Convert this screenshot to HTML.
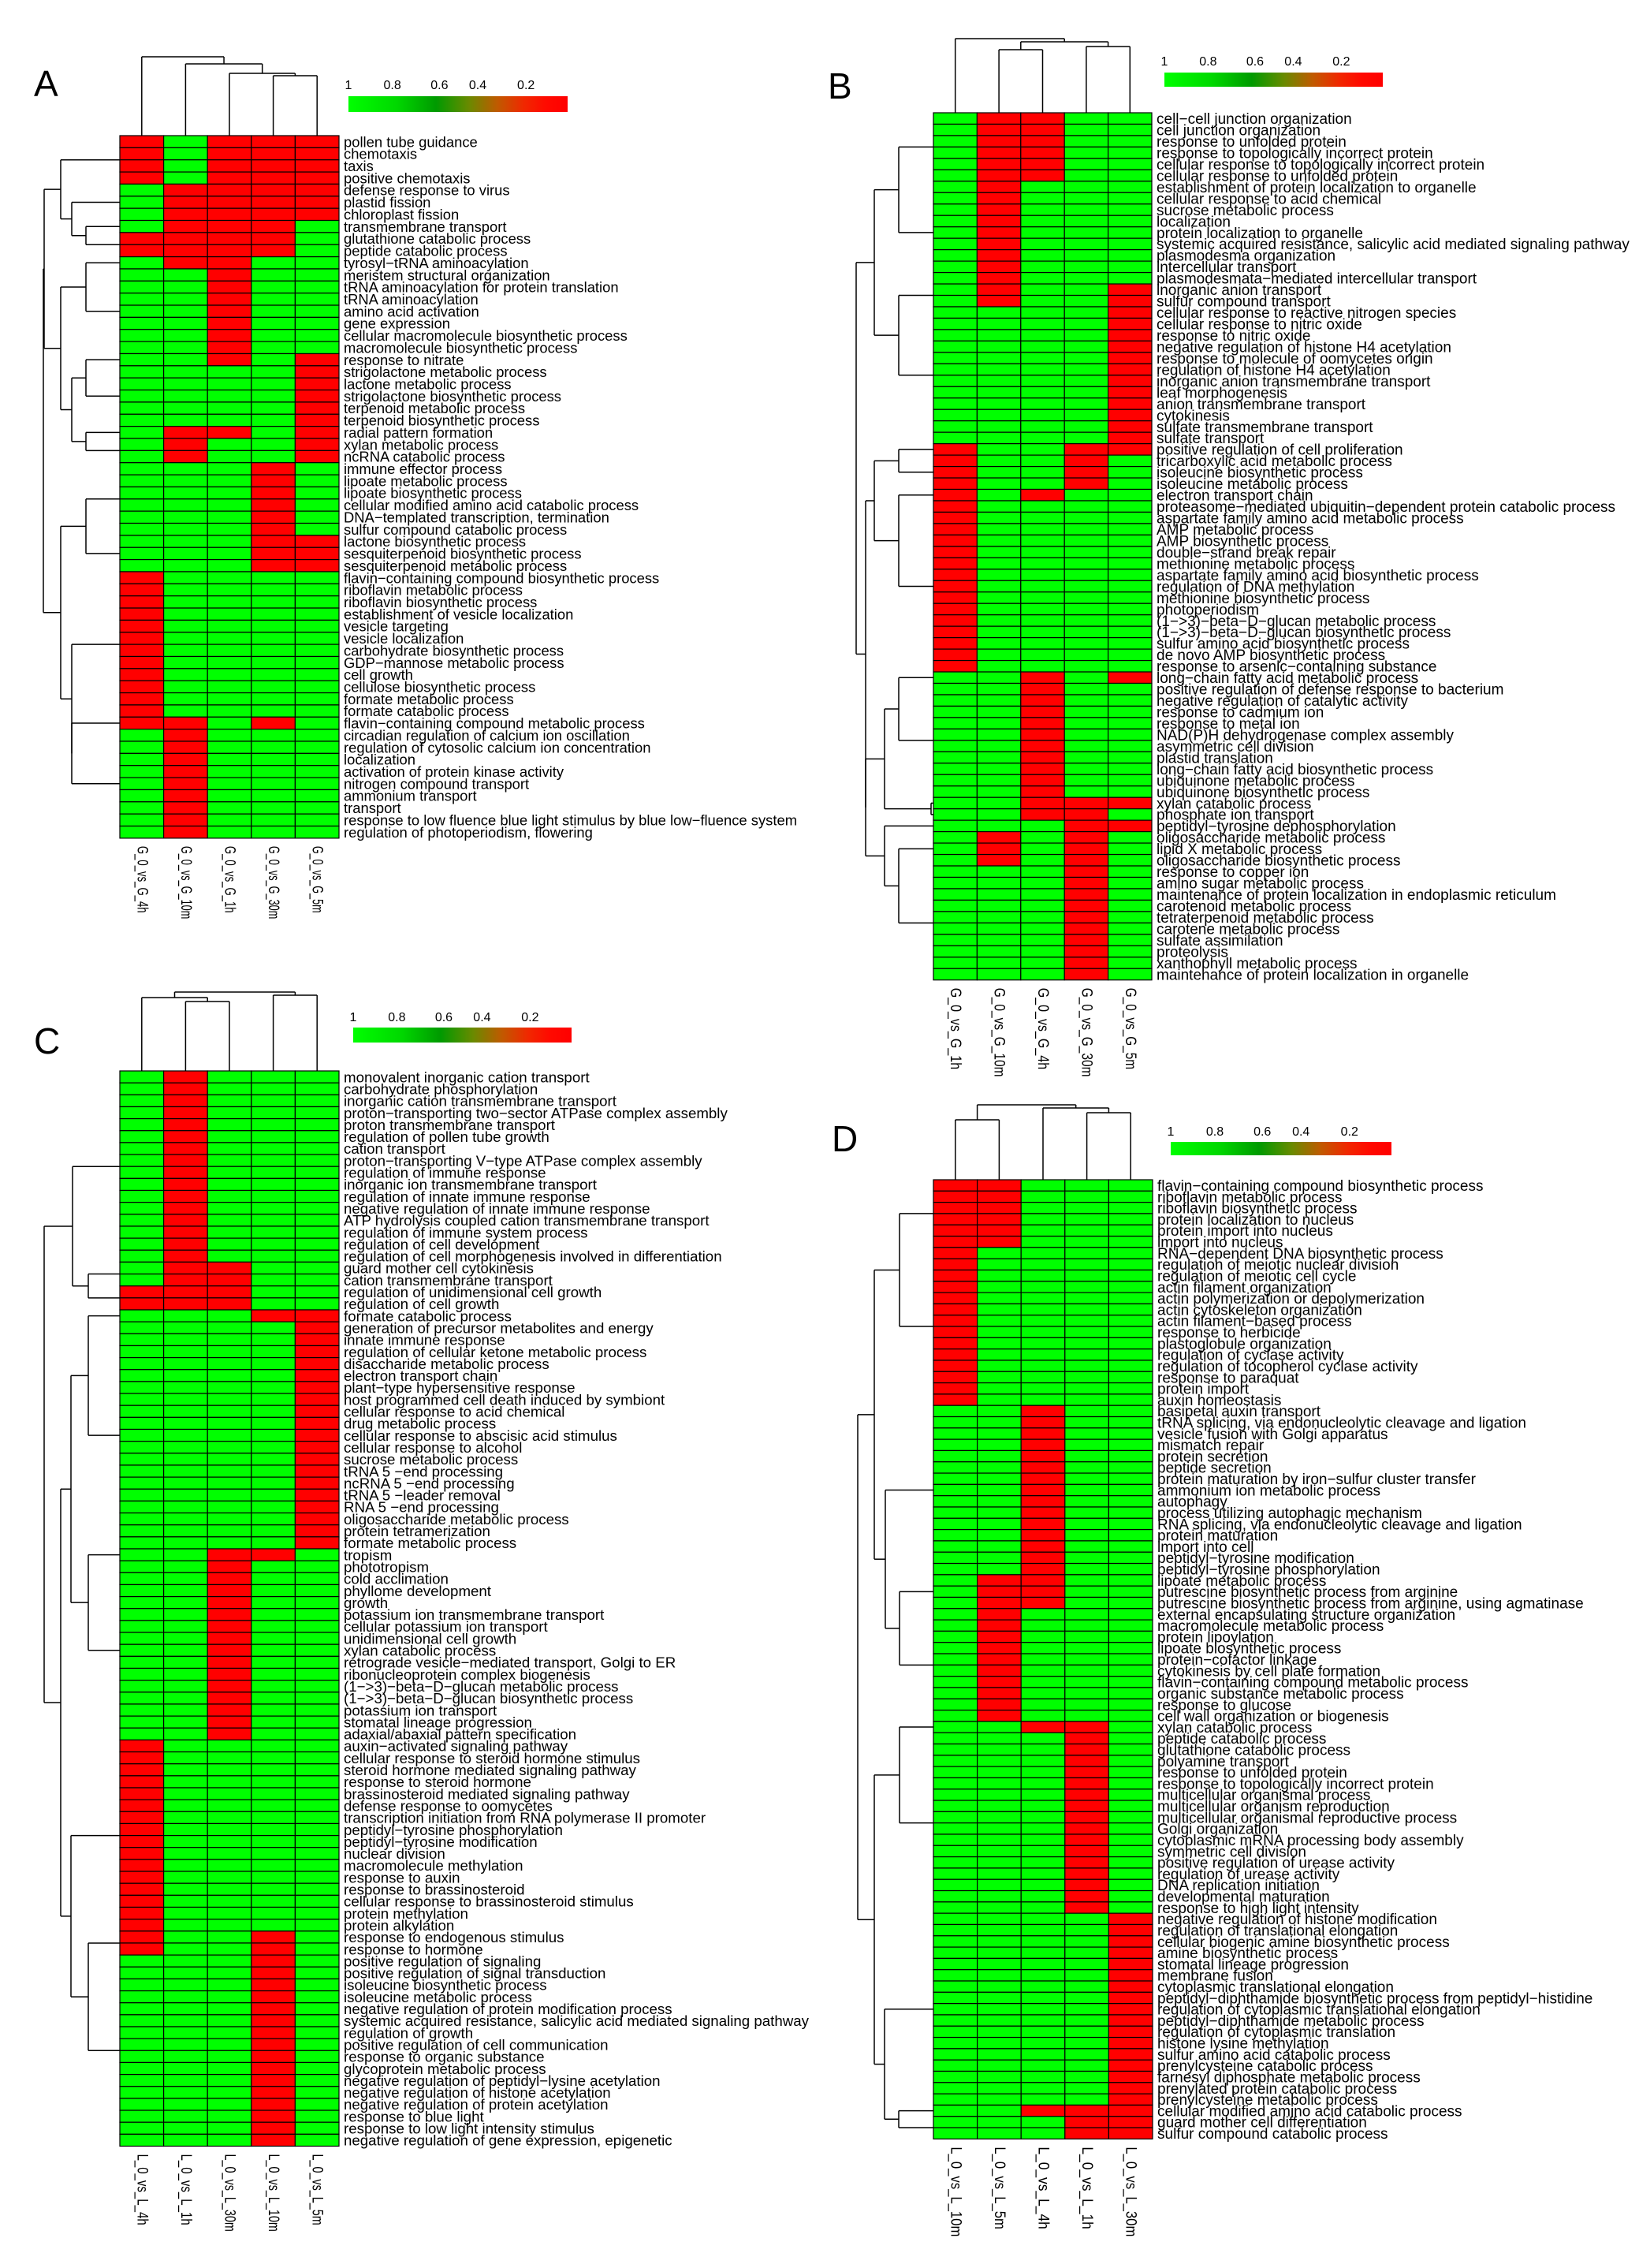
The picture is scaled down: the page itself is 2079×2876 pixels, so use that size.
<!DOCTYPE html>
<html>
<head>
<meta charset="utf-8">
<style>
html,body{margin:0;padding:0;background:#fff;}
svg{display:block;}
text{font-family:"Liberation Sans",Arial,sans-serif;fill:#000;}
</style>
</head>
<body>
<svg id="fig" xmlns="http://www.w3.org/2000/svg" width="2079" height="2876" viewBox="0 0 2079 2876">
<defs>
<linearGradient id="cbar" x1="0" x2="1" y1="0" y2="0">
<stop offset="0" stop-color="#00ff00"/>
<stop offset="0.22" stop-color="#00d800"/>
<stop offset="0.40" stop-color="#009a00"/>
<stop offset="0.55" stop-color="#6a8a00"/>
<stop offset="0.68" stop-color="#c05a00"/>
<stop offset="0.80" stop-color="#f02800"/>
<stop offset="0.90" stop-color="#ff0a00"/>
<stop offset="1" stop-color="#ff0000"/>
</linearGradient>
</defs>
<rect x="0" y="0" width="2079" height="2876" fill="#fff"/>
</svg>
<script>
// ---------- DATA ----------
const colsA = ["G_0_vs_G_4h","G_0_vs_G_10m","G_0_vs_G_1h","G_0_vs_G_30m","G_0_vs_G_5m"];
const rowsA = ["pollen tube guidance","chemotaxis","taxis","positive chemotaxis","defense response to virus","plastid fission","chloroplast fission","transmembrane transport","glutathione catabolic process","peptide catabolic process","tyrosyl\u2212tRNA aminoacylation","meristem structural organization","tRNA aminoacylation for protein translation","tRNA aminoacylation","amino acid activation","gene expression","cellular macromolecule biosynthetic process","macromolecule biosynthetic process","response to nitrate","strigolactone metabolic process","lactone metabolic process","strigolactone biosynthetic process","terpenoid metabolic process","terpenoid biosynthetic process","radial pattern formation","xylan metabolic process","ncRNA catabolic process","immune effector process","lipoate metabolic process","lipoate biosynthetic process","cellular modified amino acid catabolic process","DNA\u2212templated transcription, termination","sulfur compound catabolic process","lactone biosynthetic process","sesquiterpenoid biosynthetic process","sesquiterpenoid metabolic process","flavin\u2212containing compound biosynthetic process","riboflavin metabolic process","riboflavin biosynthetic process","establishment of vesicle localization","vesicle targeting","vesicle localization","carbohydrate biosynthetic process","GDP\u2212mannose metabolic process","cell growth","cellulose biosynthetic process","formate metabolic process","formate catabolic process","flavin\u2212containing compound metabolic process","circadian regulation of calcium ion oscillation","regulation of cytosolic calcium ion concentration","localization","activation of protein kinase activity","nitrogen compound transport","ammonium transport","transport","response to low fluence blue light stimulus by blue low\u2212fluence system","regulation of photoperiodism, flowering"];
const valsA = ["01000","01000","01000","01000","10000","10000","10000","10001","00001","00001","10011","11011","11011","11011","11011","11011","11011","11011","11010","11110","11110","11110","11110","11110","10010","10110","10110","11101","11101","11101","11101","11101","11101","11100","11100","11100","01111","01111","01111","01111","01111","01111","01111","01111","01111","01111","01111","01111","00101","10111","10111","10111","10111","10111","10111","10111","10111","10111"];

const colsB = ["G_0_vs_G_1h","G_0_vs_G_10m","G_0_vs_G_4h","G_0_vs_G_30m","G_0_vs_G_5m"];
const rowsB = ["cell\u2212cell junction organization","cell junction organization","response to unfolded protein","response to topologically incorrect protein","cellular response to topologically incorrect protein","cellular response to unfolded protein","establishment of protein localization to organelle","cellular response to acid chemical","sucrose metabolic process","localization","protein localization to organelle","systemic acquired resistance, salicylic acid mediated signaling pathway","plasmodesma organization","intercellular transport","plasmodesmata\u2212mediated intercellular transport","inorganic anion transport","sulfur compound transport","cellular response to reactive nitrogen species","cellular response to nitric oxide","response to nitric oxide","negative regulation of histone H4 acetylation","response to molecule of oomycetes origin","regulation of histone H4 acetylation","inorganic anion transmembrane transport","leaf morphogenesis","anion transmembrane transport","cytokinesis","sulfate transmembrane transport","sulfate transport","positive regulation of cell proliferation","tricarboxylic acid metabolic process","isoleucine biosynthetic process","isoleucine metabolic process","electron transport chain","proteasome\u2212mediated ubiquitin\u2212dependent protein catabolic process","aspartate family amino acid metabolic process","AMP metabolic process","AMP biosynthetic process","double\u2212strand break repair","methionine metabolic process","aspartate family amino acid biosynthetic process","regulation of DNA methylation","methionine biosynthetic process","photoperiodism","(1\u2212>3)\u2212beta\u2212D\u2212glucan metabolic process","(1\u2212>3)\u2212beta\u2212D\u2212glucan biosynthetic process","sulfur amino acid biosynthetic process","de novo AMP biosynthetic process","response to arsenic\u2212containing substance","long\u2212chain fatty acid metabolic process","positive regulation of defense response to bacterium","negative regulation of catalytic activity","response to cadmium ion","response to metal ion","NAD(P)H dehydrogenase complex assembly","asymmetric cell division","plastid translation","long\u2212chain fatty acid biosynthetic process","ubiquinone metabolic process","ubiquinone biosynthetic process","xylan catabolic process","phosphate ion transport","peptidyl\u2212tyrosine dephosphorylation","oligosaccharide metabolic process","lipid X metabolic process","oligosaccharide biosynthetic process","response to copper ion","amino sugar metabolic process","maintenance of protein localization in endoplasmic reticulum","carotenoid metabolic process","tetraterpenoid metabolic process","carotene metabolic process","sulfate assimilation","proteolysis","xanthophyll metabolic process","maintenance of protein localization in organelle"];
const valsB = ["10011","10011","10011","10011","10011","10011","10111","10111","10111","10111","10111","10111","10111","10111","10111","10110","10110","11110","11110","11110","11110","11110","11110","11110","11110","11110","11110","11110","11110","01100","01101","01101","01101","01011","01111","01111","01111","01111","01111","01111","01111","01111","01111","01111","01111","01111","01111","01111","01111","11010","11011","11011","11011","11011","11011","11011","11011","11011","11011","11011","11000","11001","11100","10101","10101","10101","11101","11101","11101","11101","11101","11101","11101","11101","11101","11101"];

const colsC = ["L_0_vs_L_4h","L_0_vs_L_1h","L_0_vs_L_30m","L_0_vs_L_10m","L_0_vs_L_5m"];
const rowsC = ["monovalent inorganic cation transport","carbohydrate phosphorylation","inorganic cation transmembrane transport","proton\u2212transporting two\u2212sector ATPase complex assembly","proton transmembrane transport","regulation of pollen tube growth","cation transport","proton\u2212transporting V\u2212type ATPase complex assembly","regulation of immune response","inorganic ion transmembrane transport","regulation of innate immune response","negative regulation of innate immune response","ATP hydrolysis coupled cation transmembrane transport","regulation of immune system process","regulation of cell development","regulation of cell morphogenesis involved in differentiation","guard mother cell cytokinesis","cation transmembrane transport","regulation of unidimensional cell growth","regulation of cell growth","formate catabolic process","generation of precursor metabolites and energy","innate immune response","regulation of cellular ketone metabolic process","disaccharide metabolic process","electron transport chain","plant\u2212type hypersensitive response","host programmed cell death induced by symbiont","cellular response to acid chemical","drug metabolic process","cellular response to abscisic acid stimulus","cellular response to alcohol","sucrose metabolic process","tRNA 5 \u2212end processing","ncRNA 5 \u2212end processing","tRNA 5 \u2212leader removal","RNA 5 \u2212end processing","oligosaccharide metabolic process","protein tetramerization","formate metabolic process","tropism","phototropism","cold acclimation","phyllome development","growth","potassium ion transmembrane transport","cellular potassium ion transport","unidimensional cell growth","xylan catabolic process","retrograde vesicle\u2212mediated transport, Golgi to ER","ribonucleoprotein complex biogenesis","(1\u2212>3)\u2212beta\u2212D\u2212glucan metabolic process","(1\u2212>3)\u2212beta\u2212D\u2212glucan biosynthetic process","potassium ion transport","stomatal lineage progression","adaxial/abaxial pattern specification","auxin\u2212activated signaling pathway","cellular response to steroid hormone stimulus","steroid hormone mediated signaling pathway","response to steroid hormone","brassinosteroid mediated signaling pathway","defense response to oomycetes","transcription initiation from RNA polymerase II promoter","peptidyl\u2212tyrosine phosphorylation","peptidyl\u2212tyrosine modification","nuclear division","macromolecule methylation","response to auxin","response to brassinosteroid","cellular response to brassinosteroid stimulus","protein methylation","protein alkylation","response to endogenous stimulus","response to hormone","positive regulation of signaling","positive regulation of signal transduction","isoleucine biosynthetic process","isoleucine metabolic process","negative regulation of protein modification process","systemic acquired resistance, salicylic acid mediated signaling pathway","regulation of growth","positive regulation of cell communication","response to organic substance","glycoprotein metabolic process","negative regulation of peptidyl\u2212lysine acetylation","negative regulation of histone acetylation","negative regulation of protein acetylation","response to blue light","response to low light intensity stimulus","negative regulation of gene expression, epigenetic"];
const valsC = ["10111","10111","10111","10111","10111","10111","10111","10111","10111","10111","10111","10111","10111","10111","10111","10111","10011","10011","00011","00011","11100","11110","11110","11110","11110","11110","11110","11110","11110","11110","11110","11110","11110","11110","11110","11110","11110","11110","11110","11110","11001","11011","11011","11011","11011","11011","11011","11011","11011","11011","11011","11011","11011","11011","11011","11011","01111","01111","01111","01111","01111","01111","01111","01111","01111","01111","01111","01111","01111","01111","01111","01111","01101","01101","11101","11101","11101","11101","11101","11101","11101","11101","11101","11101","11101","11101","11101","11101","11101","11101"];

const colsD = ["L_0_vs_L_10m","L_0_vs_L_5m","L_0_vs_L_4h","L_0_vs_L_1h","L_0_vs_L_30m"];
const rowsD = ["flavin\u2212containing compound biosynthetic process","riboflavin metabolic process","riboflavin biosynthetic process","protein localization to nucleus","protein import into nucleus","import into nucleus","RNA\u2212dependent DNA biosynthetic process","regulation of meiotic nuclear division","regulation of meiotic cell cycle","actin filament organization","actin polymerization or depolymerization","actin cytoskeleton organization","actin filament\u2212based process","response to herbicide","plastoglobule organization","regulation of cyclase activity","regulation of tocopherol cyclase activity","response to paraquat","protein import","auxin homeostasis","basipetal auxin transport","tRNA splicing, via endonucleolytic cleavage and ligation","vesicle fusion with Golgi apparatus","mismatch repair","protein secretion","peptide secretion","protein maturation by iron\u2212sulfur cluster transfer","ammonium ion metabolic process","autophagy","process utilizing autophagic mechanism","RNA splicing, via endonucleolytic cleavage and ligation","protein maturation","import into cell","peptidyl\u2212tyrosine modification","peptidyl\u2212tyrosine phosphorylation","lipoate metabolic process","putrescine biosynthetic process from arginine","putrescine biosynthetic process from arginine, using agmatinase","external encapsulating structure organization","macromolecule metabolic process","protein lipoylation","lipoate biosynthetic process","protein\u2212cofactor linkage","cytokinesis by cell plate formation","flavin\u2212containing compound metabolic process","organic substance metabolic process","response to glucose","cell wall organization or biogenesis","xylan catabolic process","peptide catabolic process","glutathione catabolic process","polyamine transport","response to unfolded protein","response to topologically incorrect protein","multicellular organismal process","multicellular organism reproduction","multicellular organismal reproductive process","Golgi organization","cytoplasmic mRNA processing body assembly","symmetric cell division","positive regulation of urease activity","regulation of urease activity","DNA replication initiation","developmental maturation","response to high light intensity","negative regulation of histone modification","regulation of translational elongation","cellular biogenic amine biosynthetic process","amine biosynthetic process","stomatal lineage progression","membrane fusion","cytoplasmic translational elongation","peptidyl\u2212diphthamide biosynthetic process from peptidyl\u2212histidine","regulation of cytoplasmic translational elongation","peptidyl\u2212diphthamide metabolic process","regulation of cytoplasmic translation","histone lysine methylation","sulfur amino acid catabolic process","prenylcysteine catabolic process","farnesyl diphosphate metabolic process","prenylated protein catabolic process","prenylcysteine metabolic process","cellular modified amino acid catabolic process","guard mother cell differentiation","sulfur compound catabolic process"];
const valsD = ["00111","00111","00111","00111","00111","00111","01111","01111","01111","01111","01111","01111","01111","01111","01111","01111","01111","01111","01111","01111","11011","11011","11011","11011","11011","11011","11011","11011","11011","11011","11011","11011","11011","11011","11011","10011","10011","10011","10111","10111","10111","10111","10111","10111","10111","10111","10111","10111","11001","11101","11101","11101","11101","11101","11101","11101","11101","11101","11101","11101","11101","11101","11101","11101","11101","11110","11110","11110","11110","11110","11110","11110","11110","11110","11110","11110","11110","11110","11110","11110","11110","11110","11000","11100","11100"];

const colorTicks = ["1","0.8","0.6","0.4","0.2"];

// ---------- LAYOUT (positions, not data) ----------
const tickFrac = [0,0.2,0.415,0.59,0.81];
const panels = [
 {id:"a", letter:"A", lx:43, ly:122, cols:colsA, rows:rowsA, vals:valsA, left:152, right:430, top:172, rowH:15.36, fs:18.4, cfs:19, cpc:7.7,
  cbar:{x:442,y:122,w:278,h:20,ty:113},
  ctree:{h:72,c:[0,{h:81,c:[1,{h:93,c:[2,{h:96,c:[3,4]}]}]}]},
  rtree:{d:97,c:[{d:96,c:[
      {d:75,c:[[1,4],{d:61,c:[[5,7],{d:43,c:[[8,8],[9,10]]}]}]},
      {d:75,c:[{d:43,c:[[11,11],[12,18]]},{d:61,c:[{d:43,c:[[19,19],[20,24]]},{d:43,c:[[25,25],[26,27]]}]}]}]},
    {d:75,c:[{d:43,c:[[28,33],[34,36]]},{d:61,c:[[37,48],{d:61,c:[[49,49],[50,58]]}]}]}]}},
 {id:"b", letter:"B", lx:1050, ly:125, cols:colsB, rows:rowsB, vals:valsB, left:1184, right:1461, top:143, rowH:14.47, fs:19, cfs:19, cpc:9.4,
  cbar:{x:1477,y:92,w:277,h:18,ty:83},
  ctree:{h:49,c:[0,{h:53,c:[{h:63,c:[1,2]},{h:59,c:[3,4]}]}]},
  rtree:{d:98,c:[{d:75,c:[{d:44,c:[[1,6],[7,15]]},{d:44,c:[[16,17],[18,29]]}]},
    {d:86,c:[{d:75,c:[{d:44,c:[[30,30],[31,33]]},{d:44,c:[[34,34],[35,49]]}]},
      {d:86,c:[{d:62,c:[{d:44,c:[[50,50],[51,60]]},{d:3,c:[[61,61],[62,62]]}]},{d:62,c:[[63,63],{d:44,c:[[64,66],[67,76]]}]}]}]}]}},
 {id:"c", letter:"C", lx:43, ly:1336, cols:colsC, rows:rowsC, vals:valsC, left:152, right:430, top:1358, rowH:15.15, fs:18.7, cfs:19, cpc:8.2,
  cbar:{x:448,y:1303,w:277,h:19,ty:1295},
  ctree:{h:1258,c:[{h:1265,c:[0,{h:1270,c:[1,2]}]},{h:1262,c:[3,4]}]},
  rtree:{d:96,c:[{d:60,c:[[1,16],{d:40,c:[[17,18],[19,20]]}]},
    {d:75,c:[{d:62,c:[{d:40,c:[[21,21],[22,40]]},{d:40,c:[[41,41],[42,56]]}]},
      {d:62,c:[[57,72],{d:40,c:[[73,74],[75,90]]}]}]}]}},
 {id:"d", letter:"D", lx:1055, ly:1460, cols:colsD, rows:rowsD, vals:valsD, left:1184, right:1462, top:1496, rowH:14.31, fs:19, cfs:19, cpc:9.5,
  cbar:{x:1485,y:1448,w:280,h:17,ty:1440},
  ctree:{h:1401,c:[{h:1420,c:[0,1]},{h:1405,c:[2,{h:1411,c:[3,4]}]}]},
  rtree:{d:96,c:[{d:75,c:[{d:43,c:[[1,6],[7,20]]},{d:61,c:[[21,35],{d:43,c:[[36,38],[39,48]]}]}]},
    {d:75,c:[{d:43,c:[[49,49],[50,65]]},{d:62,c:[[66,82],{d:44,c:[[83,83],[84,85]]}]}]}]}}
];

// ---------- RENDER ----------
const NS = "http://www.w3.org/2000/svg";
const svg = document.getElementById("fig");
function mk(tag, attrs, parent){
  const e = document.createElementNS(NS, tag);
  for (const k in attrs) e.setAttribute(k, attrs[k]);
  (parent||svg).appendChild(e);
  return e;
}
function cellColor(v){
  if (v >= 0.5) return "#00ff00";
  return "#ff0000";
}
function line(g,x1,y1,x2,y2,name){
  const l = mk("line",{x1:x1,y1:y1,x2:x2,y2:y2,stroke:"#000","stroke-width":1.5},g);
  
  
  return l;
}

panels.forEach(p=>{
  const g = mk("g",{});
  
  
  const nC = p.cols.length, nR = p.rows.length;
  const cw = (p.right - p.left) / nC;
  const xCol = i => p.left + cw*i;
  const yRow = r => p.top + p.rowH*r;
  const rowC = r1 => p.top + p.rowH*(r1-0.5);

  const L = mk("text",{x:p.lx,y:p.ly,"font-size":46,"font-family":"'Liberation Serif',serif"},g);
  L.textContent = p.letter;
  
  

  const hm = mk("g",{},g);
  
  
  for (let r=0;r<nR;r++){
    const row = p.vals[r];
    for (let c=0;c<nC;c++){
      const v = Number(row[c]);
      const rc = mk("rect",{x:xCol(c),y:yRow(r),width:cw,height:p.rowH,fill:cellColor(v),stroke:"#000","stroke-width":1.2},hm);
      
      
    }
  }

  const lg = mk("g",{},g);
  
  
  const lx = p.right + 6;
  p.rows.forEach((s,r)=>{
    const t = mk("text",{x:lx,y:yRow(r)+p.rowH/2+p.fs*0.36,"font-size":p.fs},lg);
    t.textContent = s;
    
    
  });

  const bottom = yRow(nR);
  p.cols.forEach((s,c)=>{
    const cx = xCol(c)+cw/2, ty = bottom+10;
    const t = mk("text",{x:cx,y:ty,"font-size":p.cfs,"dominant-baseline":"central",textLength:(p.cpc*s.length).toFixed(1),lengthAdjust:"spacingAndGlyphs",transform:"rotate(90 "+cx+" "+ty+")"},g);
    t.textContent = s;
    
    
  });

  const cb = p.cbar;
  const bar = mk("rect",{x:cb.x,y:cb.y,width:cb.w,height:cb.h,fill:"url(#cbar)"},g);
  
  
  colorTicks.forEach((s,i)=>{
    const t = mk("text",{x:cb.x+tickFrac[i]*cb.w,y:cb.ty,"font-size":16,"text-anchor":"middle"},g);
    t.textContent = s;
    
    
  });

  const cdg = mk("g",{},g);
  
  
  function colNode(n, parentY){
    if (typeof n === "number"){
      const x = xCol(n)+cw/2;
      line(cdg,x,parentY,x,p.top,'dendrogram-branch');
      return x;
    }
    const xs = n.c.map(ch=>colNode(ch, n.h));
    line(cdg,xs[0],n.h,xs[1],n.h,'dendrogram-branch');
    const mx = (xs[0]+xs[1])/2;
    if (parentY!==null) line(cdg,mx,parentY,mx,n.h,'dendrogram-branch');
    return mx;
  }
  colNode(p.ctree, null);

  const rdg = mk("g",{},g);
  
  
  function rowNode(n, parentX){
    if (Array.isArray(n)){
      const y = (rowC(n[0])+rowC(n[1]))/2;
      line(rdg,parentX,y,p.left,y,'dendrogram-branch');
      return y;
    }
    const x = p.left - n.d;
    const ys = n.c.map(ch=>rowNode(ch, x));
    line(rdg,x,ys[0],x,ys[1],'dendrogram-branch');
    const my = (ys[0]+ys[1])/2;
    if (parentX!==null) line(rdg,parentX,my,x,my,'dendrogram-branch');
    return my;
  }
  rowNode(p.rtree, null);
});
</script>
</body>
</html>
